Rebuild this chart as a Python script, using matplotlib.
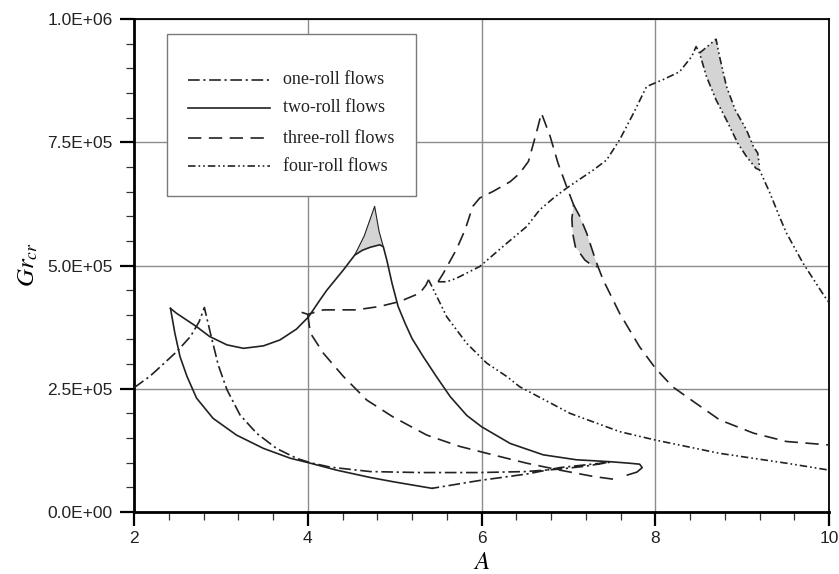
import numpy as np
import matplotlib.pyplot as plt
from matplotlib.patches import Rectangle
from matplotlib.ticker import MultipleLocator, FuncFormatter

plt.rcParams['mathtext.fontset'] = 'stix'

# one-roll flows: rise to cusp, fall, flat branch to the right, back along the lower branch
one_roll_A = [2.00, 2.18, 2.25, 2.49, 2.65, 2.75, 2.81,
              2.875, 2.97, 3.07, 3.22, 3.41, 3.64, 3.87, 4.03, 4.26, 4.72, 5.30, 5.98,
              6.50, 6.90, 7.20, 7.48,
              6.90, 6.52, 5.98, 5.43]
one_roll_Gr = [2.52e5, 2.75e5, 2.86e5, 3.25e5, 3.56e5, 3.86e5, 4.15e5,
               3.66e5, 2.98e5, 2.48e5, 1.97e5, 1.60e5, 1.29e5, 1.09e5, 1.00e5, 9.1e4, 8.2e4, 8.0e4, 8.0e4,
               8.2e4, 8.7e4, 9.3e4, 1.01e5,
               9.0e4, 7.7e4, 6.4e4, 4.8e4]

# two-roll flows
two_roll_low_A = [2.42, 2.47, 2.53, 2.61, 2.72, 2.91, 3.18, 3.49, 3.80, 4.03, 4.33, 4.72, 4.98, 5.43]
two_roll_low_Gr = [4.13e5, 3.63e5, 3.15e5, 2.75e5, 2.31e5, 1.90e5, 1.56e5, 1.29e5, 1.09e5,
                   9.9e4, 8.5e4, 7.0e4, 6.15e4, 4.8e4]
two_roll_up_A = [2.42, 2.49, 2.72, 2.87, 3.07, 3.26, 3.49, 3.68, 3.87, 4.01, 4.14, 4.22, 4.41, 4.54]
two_roll_up_Gr = [4.13e5, 4.03e5, 3.76e5, 3.56e5, 3.39e5, 3.32e5, 3.37e5, 3.49e5, 3.71e5,
                  3.96e5, 4.30e5, 4.50e5, 4.91e5, 5.21e5]
two_roll_lobe_A = [4.54, 4.63, 4.72, 4.83, 4.87]
two_roll_lobe_Gr = [5.21e5, 5.31e5, 5.37e5, 5.42e5, 5.38e5]
two_roll_cap_A = [4.54, 4.65, 4.77, 4.82, 4.87]
two_roll_cap_Gr = [5.21e5, 5.60e5, 6.20e5, 5.70e5, 5.38e5]
two_roll_tail_A = [4.87, 4.91, 4.97, 5.04, 5.12, 5.20, 5.33, 5.48, 5.64, 5.83, 6.00, 6.33, 6.71,
                   7.09, 7.48, 7.70, 7.82, 7.85, 7.79, 7.68]
two_roll_tail_Gr = [5.38e5, 5.11e5, 4.64e5, 4.17e5, 3.83e5, 3.52e5, 3.15e5, 2.75e5, 2.34e5,
                    1.96e5, 1.73e5, 1.39e5, 1.16e5, 1.06e5, 1.02e5, 9.9e4, 9.7e4, 9.0e4, 8.1e4, 7.5e4]

# three-roll flows
three_roll_low_A = [4.00, 4.03, 4.18, 4.41, 4.68, 4.98, 5.37, 5.75, 6.13, 6.52, 6.90, 7.29, 7.54]
three_roll_low_Gr = [4.00e5, 3.63e5, 3.22e5, 2.75e5, 2.27e5, 1.93e5, 1.56e5, 1.33e5, 1.16e5,
                     9.9e4, 8.5e4, 7.2e4, 6.6e4]
three_roll_mid_A = [3.93, 4.00, 4.18, 4.56, 4.83, 5.06, 5.29, 5.36, 5.39]
three_roll_mid_Gr = [4.05e5, 4.01e5, 4.10e5, 4.10e5, 4.17e5, 4.27e5, 4.44e5, 4.60e5, 4.71e5]
three_roll_peak_A = [5.50, 5.56, 5.71, 5.81, 5.90, 5.98, 6.13, 6.33, 6.44, 6.54, 6.63, 6.69,
                     6.79, 6.88, 6.98, 7.06]
three_roll_peak_Gr = [4.67e5, 4.84e5, 5.32e5, 5.72e5, 6.20e5, 6.37e5, 6.50e5, 6.70e5, 6.87e5,
                      7.11e5, 7.68e5, 8.09e5, 7.62e5, 7.08e5, 6.60e5, 6.23e5]
three_roll_lobe_left_A = [7.06, 7.04, 7.05, 7.08, 7.19, 7.29, 7.34]
three_roll_lobe_left_Gr = [6.23e5, 5.95e5, 5.65e5, 5.38e5, 5.11e5, 4.98e5, 4.98e5]
three_roll_lobe_right_A = [7.06, 7.13, 7.21, 7.30, 7.34]
three_roll_lobe_right_Gr = [6.23e5, 6.00e5, 5.66e5, 5.18e5, 4.98e5]
three_roll_tail_A = [7.34, 7.40, 7.59, 7.82, 8.00, 8.20, 8.44, 8.74, 9.13, 9.51, 10.0]
three_roll_tail_Gr = [4.98e5, 4.71e5, 4.03e5, 3.35e5, 2.92e5, 2.54e5, 2.24e5, 1.87e5, 1.60e5,
                      1.43e5, 1.36e5]

# four-roll flows
four_roll_low_A = [5.39, 5.43, 5.60, 5.83, 6.06, 6.29, 6.44, 7.02, 7.59, 8.00, 8.74, 9.51, 10.0]
four_roll_low_Gr = [4.71e5, 4.57e5, 3.96e5, 3.42e5, 3.02e5, 2.75e5, 2.54e5, 2.00e5, 1.63e5,
                    1.46e5, 1.19e5, 9.9e4, 8.5e4]
four_roll_rise_A = [5.50, 5.60, 5.71, 5.98, 6.29, 6.52, 6.67, 6.83, 6.98, 7.29, 7.44, 7.59, 7.75,
                    7.90, 8.09, 8.28, 8.42, 8.47, 8.51]
four_roll_rise_Gr = [4.67e5, 4.67e5, 4.74e5, 4.98e5, 5.45e5, 5.79e5, 6.13e5, 6.37e5, 6.57e5,
                     6.94e5, 7.14e5, 7.55e5, 8.09e5, 8.63e5, 8.77e5, 8.93e5, 9.24e5, 9.44e5, 9.31e5]
four_roll_lobe_left_A = [8.51, 8.59, 8.70, 8.82, 8.95, 9.05, 9.16, 9.20]
four_roll_lobe_left_Gr = [9.31e5, 8.83e5, 8.36e5, 7.95e5, 7.48e5, 7.21e5, 6.97e5, 6.94e5]
four_roll_lobe_right_A = [8.51, 8.70, 8.74, 8.82, 8.92, 9.05, 9.13, 9.18, 9.20]
four_roll_lobe_right_Gr = [9.31e5, 9.59e5, 9.24e5, 8.63e5, 8.16e5, 7.75e5, 7.41e5, 7.28e5, 7.00e5]
four_roll_tail_A = [9.20, 9.32, 9.43, 9.51, 9.70, 9.95, 10.0]
four_roll_tail_Gr = [6.94e5, 6.47e5, 5.99e5, 5.66e5, 5.05e5, 4.37e5, 4.25e5]

legend_labels = ['one-roll flows', 'two-roll flows', 'three-roll flows', 'four-roll flows']

INK = '#222222'
SHADE = '#d4d4d4'
LW = 1.2
ONE = (0, (7, 2.2, 1.3, 2.2))
TWO = '-'
THREE = (0, (8, 4.5))
FOUR = (0, (4.5, 1.8, 1.0, 1.8, 1.0, 1.8))

fig = plt.figure(figsize=(8.39, 5.74), dpi=100)
ax = fig.add_axes([134 / 839, 1 - 512 / 574, 695 / 839, 493 / 574])


def line(A, Gr, style, lw=LW):
    ax.plot(A, Gr, color=INK, lw=lw, linestyle=style, zorder=3)


def shade(left_A, left_Gr, right_A, right_Gr):
    xs = list(left_A) + list(right_A)[::-1]
    ys = list(left_Gr) + list(right_Gr)[::-1]
    ax.fill(xs, ys, color=SHADE, lw=0, zorder=2)


# shaded lobes
shade(two_roll_lobe_A, two_roll_lobe_Gr, two_roll_cap_A, two_roll_cap_Gr)
shade(three_roll_lobe_left_A, three_roll_lobe_left_Gr, three_roll_lobe_right_A, three_roll_lobe_right_Gr)
shade(four_roll_lobe_left_A, four_roll_lobe_left_Gr, four_roll_lobe_right_A, four_roll_lobe_right_Gr)

line(one_roll_A, one_roll_Gr, ONE)

line(two_roll_low_A, two_roll_low_Gr, TWO)
line(two_roll_up_A + two_roll_lobe_A[1:] + two_roll_tail_A[1:],
     two_roll_up_Gr + two_roll_lobe_Gr[1:] + two_roll_tail_Gr[1:], TWO)
line(two_roll_cap_A, two_roll_cap_Gr, TWO, lw=0.8)

line(three_roll_low_A, three_roll_low_Gr, THREE)
line(three_roll_mid_A, three_roll_mid_Gr, THREE)
line(three_roll_peak_A + three_roll_lobe_left_A[1:] + three_roll_tail_A[1:],
     three_roll_peak_Gr + three_roll_lobe_left_Gr[1:] + three_roll_tail_Gr[1:], THREE)
line(three_roll_lobe_right_A, three_roll_lobe_right_Gr, THREE)

line(four_roll_low_A, four_roll_low_Gr, FOUR)
line(four_roll_rise_A + four_roll_lobe_left_A[1:] + four_roll_tail_A[1:],
     four_roll_rise_Gr + four_roll_lobe_left_Gr[1:] + four_roll_tail_Gr[1:], FOUR)
line(four_roll_lobe_right_A, four_roll_lobe_right_Gr, FOUR)

# axes, ticks, grid
ax.set_xlim(2, 10)
ax.set_ylim(0, 1e6)
ax.xaxis.set_major_locator(MultipleLocator(2))
ax.xaxis.set_minor_locator(MultipleLocator(0.4))
ax.yaxis.set_major_locator(MultipleLocator(2.5e5))
ax.yaxis.set_minor_locator(MultipleLocator(5e4))
ax.yaxis.set_major_formatter(FuncFormatter(lambda v, p: f"{v:.1E}"))
ax.xaxis.set_major_formatter(FuncFormatter(lambda v, p: f"{v:g}"))
ax.grid(True, which='major', color='#8c8c8c', lw=1.0, zorder=1)
ax.set_axisbelow(True)
ax.tick_params(which='major', direction='out', length=10, width=1.6, color='black',
               labelsize=12.5, labelcolor='#222222', top=False, right=False)
ax.tick_params(which='minor', direction='out', length=5.5, width=0.9, color='#333333',
               top=False, right=False)
ax.tick_params(axis='y', which='major', pad=5.5)
ax.tick_params(axis='x', which='major', pad=4)
for lab in ax.get_xticklabels() + ax.get_yticklabels():
    lab.set_family('Liberation Sans')
for side in ['left', 'bottom']:
    ax.spines[side].set_linewidth(2.0)
for side in ['top', 'right']:
    ax.spines[side].set_linewidth(1.3)

fig.text(482 / 839, 1 - 562 / 574, '$A$', fontsize=18, ha='center', va='center')
fig.text(28 / 839, 1 - 265 / 574, '$Gr_{cr}$', fontsize=18, ha='center', va='center', rotation=90)

# legend box drawn by hand
ax.add_patch(Rectangle((0.0475, 0.641), 0.3583, 0.3286, transform=ax.transAxes,
                       facecolor='white', edgecolor='#7a7a7a', lw=1.0, zorder=5))
rows_y = [0.8763, 0.8195, 0.7586, 0.7018]
for y, lab, st in zip(rows_y, legend_labels, [ONE, TWO, THREE, FOUR]):
    ax.plot([0.0777, 0.1957], [y, y], transform=ax.transAxes, color=INK, lw=LW,
            linestyle=st, zorder=6)
    ax.text(0.2144, y, lab, transform=ax.transAxes, fontsize=13, family='Liberation Serif',
            va='center', ha='left', color='#222222', zorder=6)

fig.savefig('out.png', dpi=100)
